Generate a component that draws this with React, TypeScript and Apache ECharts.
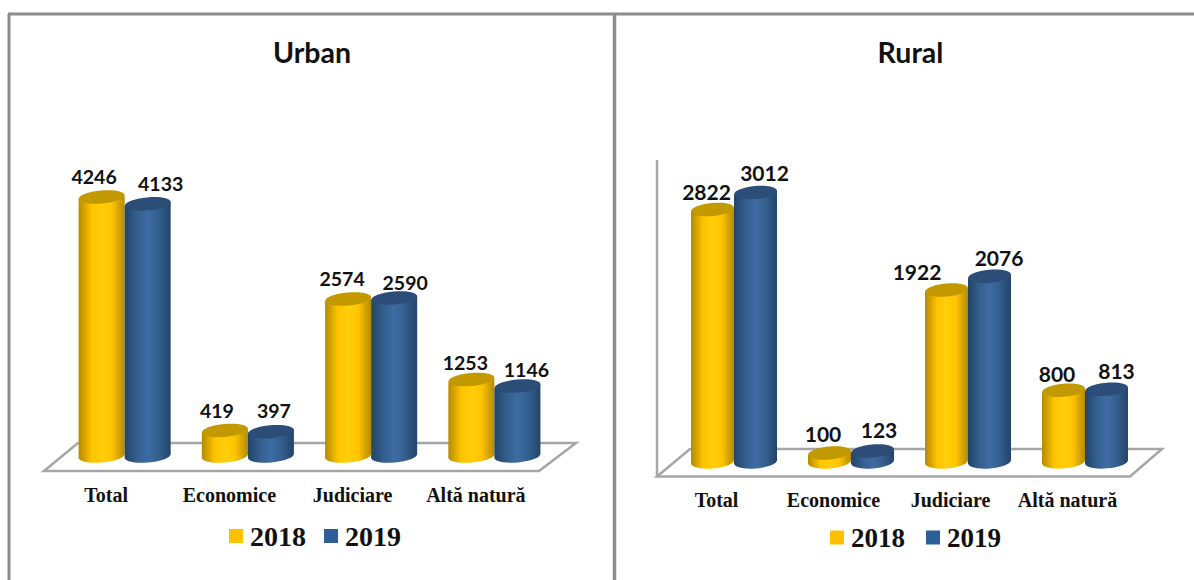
import React, { useEffect, useRef } from "react";
import * as echarts from "echarts";

const categories = ["Total", "Economice", "Judiciare", "Altă natură"];
const urban2018 = [4246, 419, 2574, 1253];
const urban2019 = [4133, 397, 2590, 1146];
const rural2018 = [2822, 100, 1922, 800];
const rural2019 = [3012, 123, 2076, 813];
const legendNames = ["2018", "2019"];

// hand-placed data label offsets of the reference (dx, dy from the top of the cylinder)
const urban2018Labels = [[-7.5, -20], [-8, -20], [-6, -20], [-6, -17]];
const urban2019Labels = [[13, -20], [3, -21], [11, -16], [9, -17]];
const rural2018Labels = [[-6, -18], [-6.5, -20], [-29.5, -19], [-6.5, -17]];
const rural2019Labels = [[9, -20], [6.5, -22], [9.5, -19], [10, -19]];

const GOLD = "#FFC000";
const BLUE = "#2F5F98";

const palette: Record<string, any> = {
  "2018": { edge: "#B58A00", mid: "#FFC400", center: "#FFCE0A", top: "#C29A00" },
  "2019": { edge: "#234469", mid: "#34608F", center: "#3D6CA3", top: "#2B4D78" },
};

function cylinder(name: string, dir: number, labels: number[][], ratio: number, fontSize: number) {
  const c = palette[name];
  const grad = () =>
    new echarts.graphic.LinearGradient(0, 0, 1, 0, [
      { offset: 0, color: c.edge },
      { offset: 0.28, color: c.mid },
      { offset: 0.5, color: c.center },
      { offset: 0.72, color: c.mid },
      { offset: 1, color: c.edge },
    ]);
  return (params: any, api: any) => {
    const idx = api.value(0);
    const val = api.value(1);
    const band = api.size([1, 0])[0];
    const w = band * ratio;
    const base = api.coord([idx, 0]);
    const top = api.coord([idx, val]);
    const cx = base[0] + (dir * w) / 2;
    const rx = w / 2;
    const ry = 6.5;
    const rot = 0.09;
    const t = rx * Math.sin(rot);
    const off = labels[params.dataIndex];
    return {
      type: "group",
      children: [
        {
          type: "ellipse",
          originX: cx,
          originY: base[1],
          rotation: rot,
          shape: { cx, cy: base[1], rx, ry },
          style: { fill: grad() },
        },
        {
          type: "polygon",
          shape: {
            points: [
              [cx - rx, top[1] + t],
              [cx + rx, top[1] - t],
              [cx + rx, base[1] - t],
              [cx - rx, base[1] + t],
            ],
          },
          style: { fill: grad() },
        },
        {
          type: "ellipse",
          originX: cx,
          originY: top[1],
          rotation: rot,
          shape: { cx, cy: top[1], rx, ry },
          style: { fill: c.top },
        },
        {
          type: "text",
          style: {
            x: cx + off[0],
            y: top[1] + off[1],
            text: String(val),
            align: "center",
            verticalAlign: "middle",
            font: `bold ${fontSize}px Lato`,
            fill: "#111111",
          },
        },
      ],
    };
  };
}

function cylSeries(name: string, dir: number, values: number[], axis: number, labels: number[][], ratio: number, fs: number) {
  return {
    type: "custom",
    name,
    xAxisIndex: axis,
    yAxisIndex: axis,
    clip: false,
    itemStyle: { color: name === "2018" ? GOLD : BLUE },
    encode: { x: 0, y: 1 },
    data: values.map((v, i) => [i, v]),
    renderItem: cylinder(name, dir, labels, ratio, fs),
  };
}

const legendText = { fontFamily: '"Liberation Serif"', fontWeight: "bold", fontSize: 28, color: "#111111", padding: [0, 0, 0, 2] };
const legendData = [
  { name: legendNames[0], icon: "rect", itemStyle: { color: GOLD } },
  { name: legendNames[1], icon: "rect", itemStyle: { color: BLUE } },
];
const frame = { stroke: "#8C8C8C", lineWidth: 3 };
const floor = { fill: "#FFFFFF", stroke: "#A6A6A6", lineWidth: 2.5 };
const titleStyle = { fontFamily: "Lato", fontWeight: "bold", fontSize: 28.5, color: "#111111" };

export default function App() {
  const ref = useRef<HTMLDivElement>(null);
  useEffect(() => {
    const chart = echarts.init(ref.current!, undefined, { renderer: "svg" });
    const xAxis = (gridIndex: number, margin: number, pad: number, fontSize: number) => ({
      type: "category",
      gridIndex,
      data: categories,
      axisLine: { show: false },
      axisTick: { show: false },
      axisLabel: {
        interval: 0,
        margin,
        padding: [0, pad, 0, 0],
        fontFamily: '"Liberation Serif"',
        fontWeight: "bold",
        fontSize,
        color: "#111111",
      },
    });
    chart.setOption({
      animation: false,
      backgroundColor: "#FFFFFF",
      title: [
        { text: "Urban", left: 307, top: 47, textAlign: "center", textVerticalAlign: "middle", textStyle: titleStyle },
        { text: "Rural", left: 905.5, top: 47, textAlign: "center", textVerticalAlign: "middle", textStyle: titleStyle },
      ],
      legend: [
        { left: 229, top: 522, padding: 0, itemWidth: 14, itemHeight: 14, itemGap: 18, textStyle: legendText, data: legendData, selectedMode: false },
        { left: 830, top: 524, padding: 0, itemWidth: 14, itemHeight: 14, itemGap: 21, textStyle: { ...legendText, fontSize: 27 }, data: legendData, selectedMode: false },
      ],
      grid: [
        { left: 63, width: 493, top: 151, height: 305 },
        { left: 675.5, width: 468, top: 149, height: 313 },
      ],
      xAxis: [xAxis(0, 29, 37, 20), xAxis(1, 28, 35, 20)],
      yAxis: [
        { type: "value", gridIndex: 0, min: 0, max: 5000, show: false },
        { type: "value", gridIndex: 1, min: 0, max: 3500, show: false },
      ],
      graphic: [
        { type: "line", shape: { x1: 8, y1: 14, x2: 1194, y2: 14 }, style: frame },
        { type: "line", shape: { x1: 9, y1: 14, x2: 9, y2: 580 }, style: frame },
        { type: "line", shape: { x1: 614.5, y1: 14, x2: 614.5, y2: 580 }, style: { ...frame, lineWidth: 3.5 } },
        { type: "polygon", shape: { points: [[44, 471], [78, 443], [576, 443], [539, 471]] }, style: floor },
        { type: "polygon", shape: { points: [[657, 476.5], [690, 449], [1162, 449], [1130, 476.5]] }, style: floor },
        { type: "line", shape: { x1: 657, y1: 160, x2: 657, y2: 476 }, style: { stroke: "#A6A6A6", lineWidth: 2.5 } },
      ],
      series: [
        cylSeries("2018", -1, urban2018, 0, urban2018Labels, 0.3735, 19.5),
        cylSeries("2019", 1, urban2019, 0, urban2019Labels, 0.3735, 19.5),
        cylSeries("2018", -1, rural2018, 1, rural2018Labels, 0.3675, 21),
        cylSeries("2019", 1, rural2019, 1, rural2019Labels, 0.3675, 21),
      ],
    });
    return () => chart.dispose();
  }, []);
  return <div ref={ref} style={{ position: "absolute", left: 0, top: 0, width: 1194, height: 580 }} />;
}
